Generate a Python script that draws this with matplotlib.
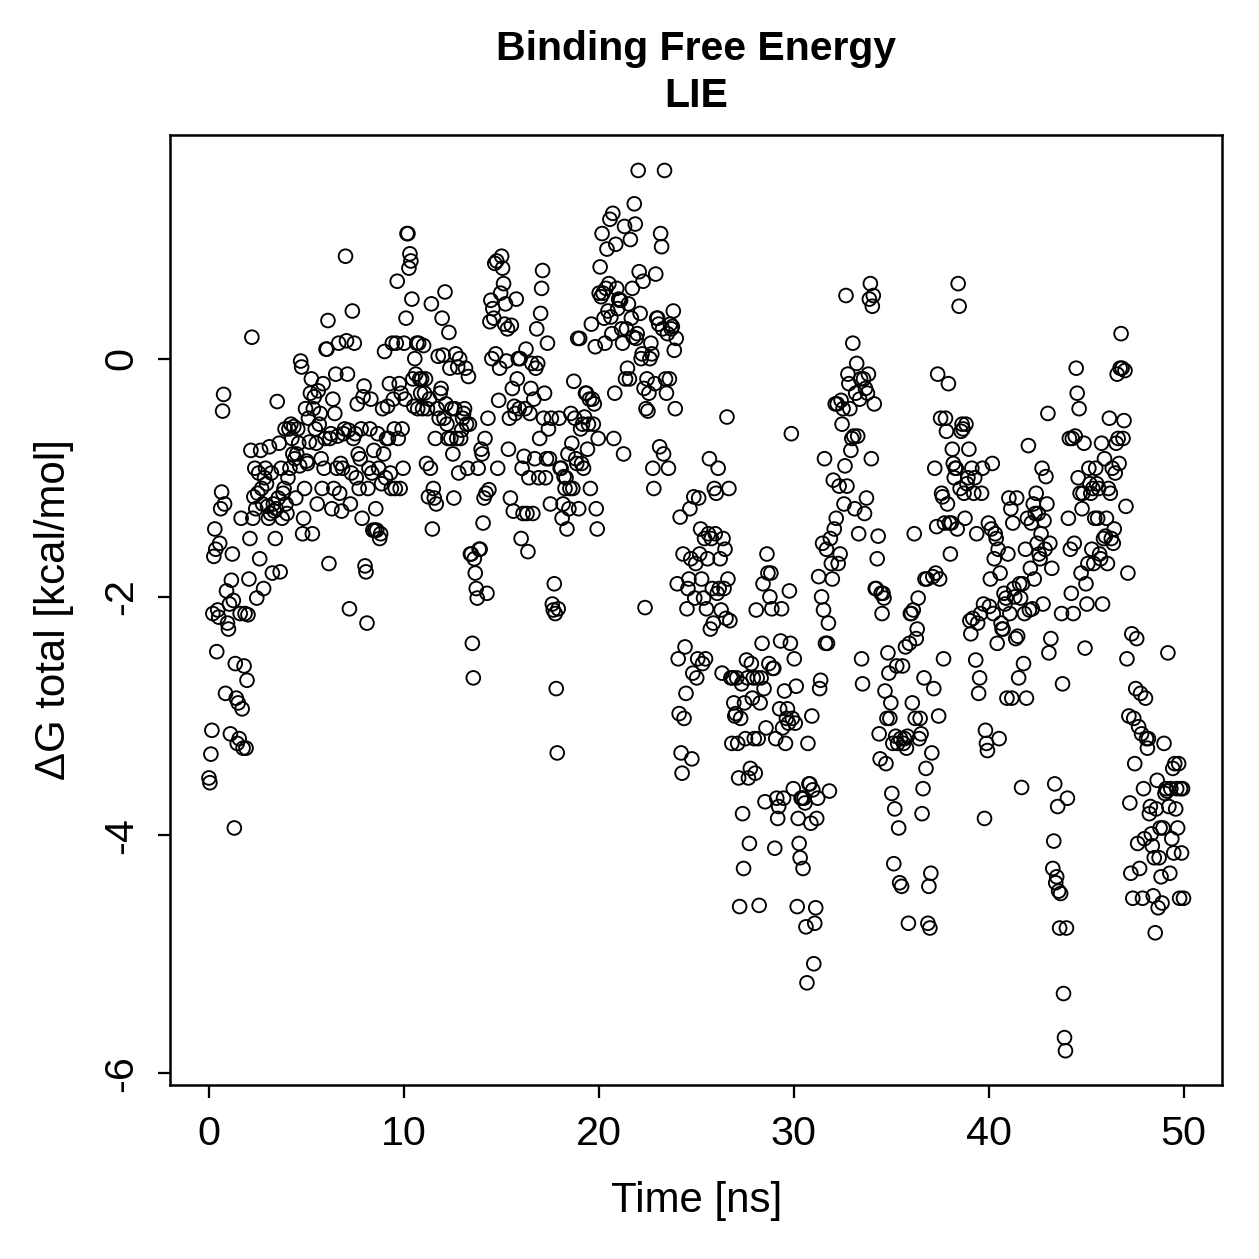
import numpy as np
import matplotlib
matplotlib.use("Agg")
import matplotlib.pyplot as plt

# LIE binding free energy, one frame every 0.05 ns
dg_00_10 = [
    -3.52, -3.56, -3.32, -3.12, -2.14, -1.66, -1.43, -1.6, -2.46, -2.11, -2.17, -1.55, -1.26, -1.12, -0.44, -0.3, -1.22, -2.81, -1.95, -2.22,
    -2.27, -2.06, -3.15, -1.86, -1.64, -2.03, -3.94, -2.56, -2.85, -3.23, -2.89, -3.19, -2.14, -1.34, -2.94, -3.27, -2.58, -2.14, -3.27, -2.7,
    -2.15, -1.85, -1.51, -0.77, 0.18, -1.34, -1.16, -0.92, -1.26, -2.01, -1.13, -0.96, -1.68, -0.77, -1.09, -1.22, -1.93, -1.0, -0.92, -1.05,
    -1.24, -1.34, -0.74, -1.3, -0.96, -1.8, -1.22, -1.28, -1.51, -1.26, -0.36, -1.17, -0.71, -1.79, -0.92, -1.34, -1.13, -1.09, -0.59, -1.22,
    -1.3, -1.0, -0.59, -0.92, -0.55, -0.67, -0.8, -0.57, -0.84, -1.17, -0.8, -0.59, -0.71, -0.9, -0.02, -0.07, -1.47, -1.34, -1.09, -0.42,
    -0.86, -0.88, -0.5, -0.7, -0.29, -0.17, -1.47, -0.42, -0.32, -0.59, -0.71, -1.22, -0.27, -0.55, -0.46, -0.84, -1.09, -0.21, -0.92, -0.67,
    0.08, 0.08, 0.32, -1.72, -0.67, -0.63, -1.26, -0.34, -1.09, -0.46, -0.13, -0.92, -0.65, 0.13, -1.13, -0.88, -1.28, -0.92, -0.63, -0.59,
    0.86, 0.15, -0.13, -0.6, -2.1, -1.22, -0.96, 0.4, -0.67, 0.13, -0.63, -1.0, -0.38, -0.8, -1.09, -0.84, -0.59, -1.34, -0.32, -0.23,
    -1.74, -1.79, -2.22, -1.09, -0.92, -0.59, -0.34, -0.96, -1.44, -0.77, -1.44, -1.26, -1.44, -0.63, -0.92, -1.51, -1.47, -1.05, -0.42, -0.8,
    0.06, -1.0, -0.67, -0.4, -0.67, -0.21, -0.96, -1.09, 0.13, -0.34, -0.59, -1.09, 0.13, 0.65, -0.67, -0.21, -1.09, -0.29, -0.59, -0.92,
]
dg_10_20 = [
    0.13, -0.34, 0.34, 1.05, 1.05, 0.76, 0.88, 0.82, 0.5, -0.17, -0.4, 0.0, -0.13, 0.13, -0.42, 0.13, -0.17, -0.29, -0.17, -0.42,
    0.11, -0.29, -0.17, -0.88, -0.42, -1.16, -0.34, -0.92, 0.46, -1.43, -1.09, -1.17, -0.67, -1.22, -0.42, 0.02, -0.5, -0.29, -0.25, 0.34,
    0.03, -0.5, 0.56, -0.38, -0.55, -0.67, 0.22, -0.08, -0.67, -0.42, -0.8, -1.17, -0.42, 0.04, -0.67, -0.07, -0.96, 0.0, -0.67, -0.6,
    -0.5, -0.46, -0.42, -0.08, -0.55, -0.92, -0.15, -0.55, -1.64, -1.64, -2.39, -2.68, -1.68, -1.8, -1.93, -2.01, -0.92, -1.6, -1.6, -0.76,
    -0.8, -1.38, -1.17, -0.67, -1.13, -1.97, -0.5, -1.1, 0.31, 0.49, 0.0, 0.42, 0.34, 0.8, 0.04, 0.82, -0.92, -0.35, -0.08, 0.55,
    0.86, 0.76, 0.63, 0.29, 0.46, -0.02, 0.25, -0.76, -0.5, -1.17, 0.28, -0.25, -1.28, -0.4, -0.46, 0.5, -0.17, 0.0, -0.42, 0.0,
    -1.51, -0.92, -1.3, -0.82, -0.42, 0.08, -1.3, -1.62, -1.0, -0.46, -0.25, -0.04, -1.3, -0.34, -0.84, -0.08, 0.25, -0.04, -1.0, -0.67,
    0.38, 0.59, 0.74, -0.5, -0.29, -1.0, -0.84, 0.13, -0.59, -0.84, -1.22, -0.5, -2.06, -2.11, -1.89, -2.14, -2.77, -3.31, -2.1, -0.5,
    -0.92, -0.92, -1.34, -1.22, -0.99, -1.09, -1.0, -1.43, -0.8, -1.26, -1.09, -0.46, -0.71, -1.09, -0.19, -0.5, -0.84, -0.88, 0.17, -1.26,
    0.17, -0.59, -0.88, -0.55, -0.92, -0.49, -0.29, -0.29, -0.76, -0.55, -0.34, -1.09, 0.29, -0.34, -0.55, -0.38, 0.1, -1.26, -1.43, -0.67,
]
dg_20_30 = [
    0.55, 0.77, 0.52, 1.05, 0.55, 0.34, 0.13, 0.59, 0.92, 0.4, 0.63, 1.17, 0.35, 0.21, 1.22, -0.67, -0.29, 0.96, 0.59, 0.42,
    0.5, 0.49, 0.49, 0.25, 0.13, -0.8, 1.11, -0.17, 0.25, -0.08, 0.46, -0.17, 1.0, 0.34, 0.59, 0.18, 1.3, 1.13, 0.17, 0.21,
    1.58, 0.73, 0.38, 0.0, 0.04, 0.65, -0.25, -2.09, -0.42, -0.17, -0.44, -0.29, 0.0, 0.13, 0.04, -0.92, -1.09, -0.21, 0.71, 0.34,
    0.34, 0.29, -0.74, 1.05, 0.94, 0.25, -0.8, 1.58, -0.17, -0.29, 0.21, -0.92, -0.17, 0.29, 0.25, 0.27, 0.4, 0.07, -0.42, 0.17,
    -1.89, -2.52, -2.98, -1.33, -3.31, -3.48, -1.64, -3.02, -2.42, -2.81, -2.1, -1.93, -1.85, -1.26, -1.68, -3.36, -2.64, -1.16, -2.01, -1.72,
    -2.68, -2.52, -1.17, -1.64, -1.43, -1.85, -2.56, -2.01, -1.51, -2.52, -2.1, -1.68, -1.47, -0.84, -2.27, -1.51, -1.93, -2.22, -1.09, -1.47,
    -1.13, -1.97, -0.92, -1.93, -1.68, -2.11, -2.64, -1.51, -1.93, -1.6, -2.18, -0.49, -1.85, -1.09, -2.2, -2.68, -3.23, -2.68, -2.89, -3.0,
    -2.98, -2.68, -3.23, -3.52, -4.6, -3.02, -2.73, -3.82, -4.28, -2.89, -3.19, -2.53, -2.68, -3.52, -4.07, -3.44, -2.56, -2.85, -2.68, -3.19,
    -3.48, -2.11, -2.68, -3.19, -4.59, -2.89, -2.68, -2.39, -1.89, -2.77, -3.72, -3.1, -1.64, -1.8, -2.56, -2.0, -1.8, -2.1, -2.6, -2.6,
    -4.11, -3.19, -3.69, -3.86, -3.76, -2.94, -2.37, -2.1, -3.1, -3.69, -2.79, -3.23, -3.02, -2.94, -3.06, -1.95, -2.39, -0.63, -3.02, -3.61,
]
dg_30_40 = [
    -2.52, -3.06, -2.75, -4.6, -3.86, -4.07, -4.19, -3.69, -3.69, -4.28, -3.69, -3.73, -4.77, -5.24, -3.23, -3.57, -3.57, -3.9, -3.0, -3.62,
    -5.08, -4.74, -4.61, -3.86, -3.69, -1.83, -2.77, -2.7, -2.0, -1.55, -2.11, -0.84, -2.39, -1.6, -2.39, -2.22, -3.63, -1.51, -1.72, -1.85,
    -1.02, -1.43, -0.38, -1.34, -0.38, -1.72, -1.07, -1.64, -0.35, -0.55, -0.42, -1.22, -0.9, 0.53, -1.07, -0.13, -0.21, -0.42, -0.77, -0.67,
    0.13, -0.65, -1.26, -0.29, -0.04, -0.65, -1.47, -0.34, -0.17, -2.52, -2.73, -0.17, -1.3, -0.25, -1.17, -0.29, -0.13, 0.5, 0.63, -0.84,
    0.44, 0.53, -0.38, -1.93, -1.93, -1.68, -1.49, -3.15, -3.36, -1.97, -2.14, -1.97, -2.01, -2.79, -3.4, -3.02, -2.47, -2.64, -3.02, -2.89,
    -3.65, -3.23, -4.24, -3.78, -3.17, -2.58, -3.23, -3.94, -4.4, -3.19, -4.43, -2.58, -3.23, -3.19, -2.42, -3.27, -3.17, -4.74, -2.39, -2.14,
    -2.14, -2.89, -2.11, -1.47, -3.02, -2.35, -2.27, -2.01, -3.19, -3.02, -3.15, -3.82, -3.61, -2.68, -1.85, -3.44, -1.85, -4.74, -4.43, -4.78,
    -4.32, -3.31, -1.83, -2.77, -0.92, -1.8, -1.41, -0.13, -3.0, -1.85, -0.5, -1.13, -1.16, -2.52, -1.38, -0.5, -0.61, -1.22, -0.21, -1.38,
    -1.64, -1.38, -0.76, -0.88, -1.0, -0.92, -0.92, -1.43, 0.63, 0.44, -1.09, -0.61, -0.55, -0.59, -1.13, -1.34, -0.55, -1.05, -1.0, -0.76,
    -2.2, -2.31, -0.92, -2.18, -1.13, -1.0, -2.53, -1.47, -2.22, -2.81, -2.68, -2.14, -1.13, -0.92, -2.06, -3.86, -3.12, -3.23, -3.29, -1.38,
]
dg_40_50 = [
    -2.08, -1.85, -1.43, -0.88, -2.14, -1.68, -1.47, -1.51, -2.39, -1.6, -3.19, -1.8, -2.22, -2.27, -2.27, -1.97, -2.06, -2.01, -2.85, -1.64,
    -1.17, -2.14, -1.26, -2.85, -1.38, -1.93, -2.0, -2.35, -1.17, -2.33, -2.68, -1.89, -2.01, -3.6, -1.89, -2.56, -2.14, -1.6, -2.85, -1.34,
    -0.73, -2.11, -1.76, -1.38, -2.1, -1.22, -1.85, -1.3, -1.13, -1.55, -1.3, -1.64, -1.68, -1.47, -0.92, -2.06, -1.36, -1.6, -0.99, -1.22,
    -0.46, -2.47, -1.55, -2.35, -1.76, -4.28, -4.05, -3.57, -4.4, -4.35, -3.76, -4.47, -4.78, -4.49, -2.14, -2.73, -5.33, -5.7, -5.81, -4.78,
    -3.69, -1.34, -0.67, -1.6, -1.97, -0.67, -2.14, -1.55, -0.65, -0.08, -0.29, -1.0, -0.42, -1.13, -1.8, -1.26, -1.13, -0.71, -2.43, -1.89,
    -2.06, -1.72, -0.92, -1.05, -1.13, -1.6, -1.09, -1.72, -1.34, -0.92, -1.05, -1.34, -1.09, -1.64, -1.68, -0.71, -2.06, -1.51, -0.84, -1.49,
    -1.34, -1.72, -1.09, -0.5, -1.13, -1.51, -0.92, -1.55, -1.43, -0.96, -0.71, -0.13, -0.67, -0.88, -0.08, 0.21, -0.08, -0.67, -0.52, -0.1,
    -1.24, -2.52, -1.8, -3.0, -3.73, -4.32, -2.31, -4.53, -3.02, -3.4, -2.77, -2.35, -4.07, -3.09, -4.28, -2.81, -3.15, -4.53, -3.61, -4.03,
    -2.85, -3.19, -3.27, -3.19, -3.82, -3.76, -3.99, -4.09, -4.51, -4.19, -4.82, -3.78, -3.54, -4.61, -4.19, -3.94, -4.35, -4.57, -3.94, -3.23,
    -3.65, -3.61, -3.63, -2.47, -3.76, -4.32, -3.61, -4.03, -3.44, -4.15, -3.4, -3.78, -3.61, -3.94, -3.4, -4.53, -3.61, -4.15, -3.61, -4.53,
]

dg = np.array(dg_00_10 + dg_10_20 + dg_20_30 + dg_30_40 + dg_40_50)
time_ns = np.linspace(0, 50, len(dg))

plt.rcParams['font.family'] = ['Liberation Sans', 'DejaVu Sans']

fig = plt.figure(figsize=(1259 / 180, 1259 / 180), dpi=180)
ax = fig.add_axes([0.135, 0.138, 0.836, 0.755])

ax.scatter(time_ns, dg, s=30, facecolors='none', edgecolors='black', linewidths=0.75)

ax.set_xlim(-2, 52)
ax.set_ylim(-6.1, 1.88)
ax.set_xticks([0, 10, 20, 30, 40, 50])
ax.set_yticks([-6, -4, -2, 0])
ax.set_yticklabels(['-6', '-4', '-2', '0'], rotation=90, va='center')

for sp in ax.spines.values():
    sp.set_linewidth(1.0)
ax.tick_params(direction='out', length=5, width=0.9, labelsize=16.5)
ax.tick_params(axis='x', pad=7)
ax.tick_params(axis='y', pad=7)

ax.set_xlabel('Time [ns]', fontsize=16.8, labelpad=11)
ax.set_ylabel('ΔG total [kcal/mol]', fontsize=16.8, labelpad=11)
ax.set_title('Binding Free Energy\nLIE', fontsize=16.4, fontweight='bold', pad=11, linespacing=1.3)

fig.savefig('out.png', dpi=180)
